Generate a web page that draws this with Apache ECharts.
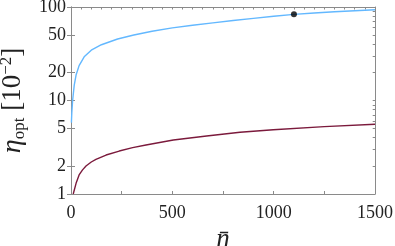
<!DOCTYPE html>
<html><head><meta charset="utf-8">
<script src="https://cdn.jsdelivr.net/npm/echarts@6/dist/echarts.min.js"></script>
<style>html,body{margin:0;padding:0;background:#fff}#c{width:395px;height:246px}</style>
</head><body><div id="c"></div>
<script>
const blueN = [2, 4, 8, 16, 25, 40, 65, 100, 150, 230, 310, 400, 500, 600, 700, 800, 900, 1000, 1100, 1200, 1300, 1400, 1500];
const blueEta = [5.8, 7.4, 10, 14.6, 18.7, 23.6, 29.3, 34.5, 39.5, 45.5, 50.2, 55, 59.8, 63.8, 67.7, 71.6, 75.6, 79.6, 83.4, 86.2, 88.8, 91.2, 93.5];
const redN = [11, 25, 40, 57, 74, 100, 123, 173, 238, 304, 370, 505, 669, 834, 998, 1250, 1500];
const redEta = [1.0, 1.30, 1.6, 1.81, 1.99, 2.2, 2.35, 2.61, 2.88, 3.13, 3.34, 3.78, 4.17, 4.57, 4.87, 5.25, 5.57];
const markN = [1100];
const markEta = [83.4];
const yMajor = [1, 2, 5, 10, 20, 50, 100];
const yMinor = [1, 2, 3, 4, 5, 6, 7, 8, 9, 10, 20, 30, 40, 50, 60, 70, 80, 90, 100];
const xLabels = [0, 500, 1000, 1500];

const L = Math.log10;
const pairs = (xs, ys) => xs.map((x, i) => [x, L(ys[i])]);
const FONT = 'Liberation Serif';
const AX = '#8a8a8a';

const chart = echarts.init(document.getElementById('c'), null, {renderer: 'canvas'});
const yBase = {type: 'value', min: 0, max: 2, splitLine: {show: false},
  axisLine: {show: true, lineStyle: {color: AX, width: 1}}};
chart.setOption({
  animation: false,
  backgroundColor: '#fff',
  grid: {left: 71, right: 20, top: 7, bottom: 52, containLabel: false, outerBoundsMode: 'none'},
  xAxis: [
    {type: 'value', min: 0, max: 1500, interval: 250, position: 'bottom',
     splitLine: {show: false},
     axisLine: {show: true, onZero: false, lineStyle: {color: AX, width: 1}},
     axisTick: {show: true, inside: true, length: 3, lineStyle: {color: AX}},
     axisLabel: {color: '#222', fontFamily: FONT, fontSize: 18, margin: 10,
       formatter: v => xLabels.indexOf(v) >= 0 ? String(v) : ''},
     name: 'n\u0304', nameLocation: 'middle', nameGap: 22,
     nameTextStyle: {fontFamily: FONT, fontStyle: 'italic', fontSize: 27, color: '#222'}},
    {type: 'value', min: 0, max: 1500, interval: 50, position: 'top',
     splitLine: {show: false},
     axisLine: {show: true, onZero: false, lineStyle: {color: AX, width: 1}},
     axisTick: {show: true, inside: true, length: 2.5, lineStyle: {color: AX}},
     axisLabel: {show: false}}
  ],
  yAxis: [
    Object.assign({}, yBase, {position: 'left',
     axisTick: {show: true, inside: true, length: 4, lineStyle: {color: AX}, customValues: yMajor.map(L)},
     axisLabel: {color: '#222', fontFamily: FONT, fontSize: 18, margin: 5,
       customValues: yMajor.map(L), formatter: v => String(Math.round(Math.pow(10, v)))},
     name: '{eta|\u03b7}{sub|opt}{br| [10}{sup|\u22122}{br|]}', nameLocation: 'middle', nameGap: 36,
     nameRotate: 90,
     nameTextStyle: {color: '#222', fontFamily: FONT, fontSize: 26,
       rich: {
         eta: {fontFamily: FONT, fontStyle: 'italic', fontSize: 28, color: '#222', lineHeight: 30, verticalAlign: 'middle'},
         sub: {fontFamily: FONT, fontSize: 17, color: '#222', verticalAlign: 'bottom', lineHeight: 15},
         br: {fontFamily: FONT, fontSize: 27, color: '#222', lineHeight: 30, verticalAlign: 'middle'},
         sup: {fontFamily: FONT, fontSize: 17, color: '#222', verticalAlign: 'top', lineHeight: 15}
       }}}),
    Object.assign({}, yBase, {position: 'right',
     axisTick: {show: true, inside: true, length: 4, lineStyle: {color: AX}, customValues: yMajor.map(L)},
     axisLabel: {show: false}}),
    Object.assign({}, yBase, {position: 'right',
     axisTick: {show: true, inside: true, length: 2.3, lineStyle: {color: AX}, customValues: yMinor.map(L)},
     axisLabel: {show: false}})
  ],
  series: [
    {type: 'line', data: pairs(blueN, blueEta), showSymbol: false, smooth: false,
     lineStyle: {color: '#63b8ff', width: 1.4}, xAxisIndex: 0, yAxisIndex: 0},
    {type: 'line', data: pairs(redN, redEta), showSymbol: false, smooth: false,
     lineStyle: {color: '#7b1a3c', width: 1.4}, xAxisIndex: 0, yAxisIndex: 0},
    {type: 'scatter', data: pairs(markN, markEta), symbolSize: 6, itemStyle: {color: '#000'}, z: 5}
  ]
});
</script></body></html>
